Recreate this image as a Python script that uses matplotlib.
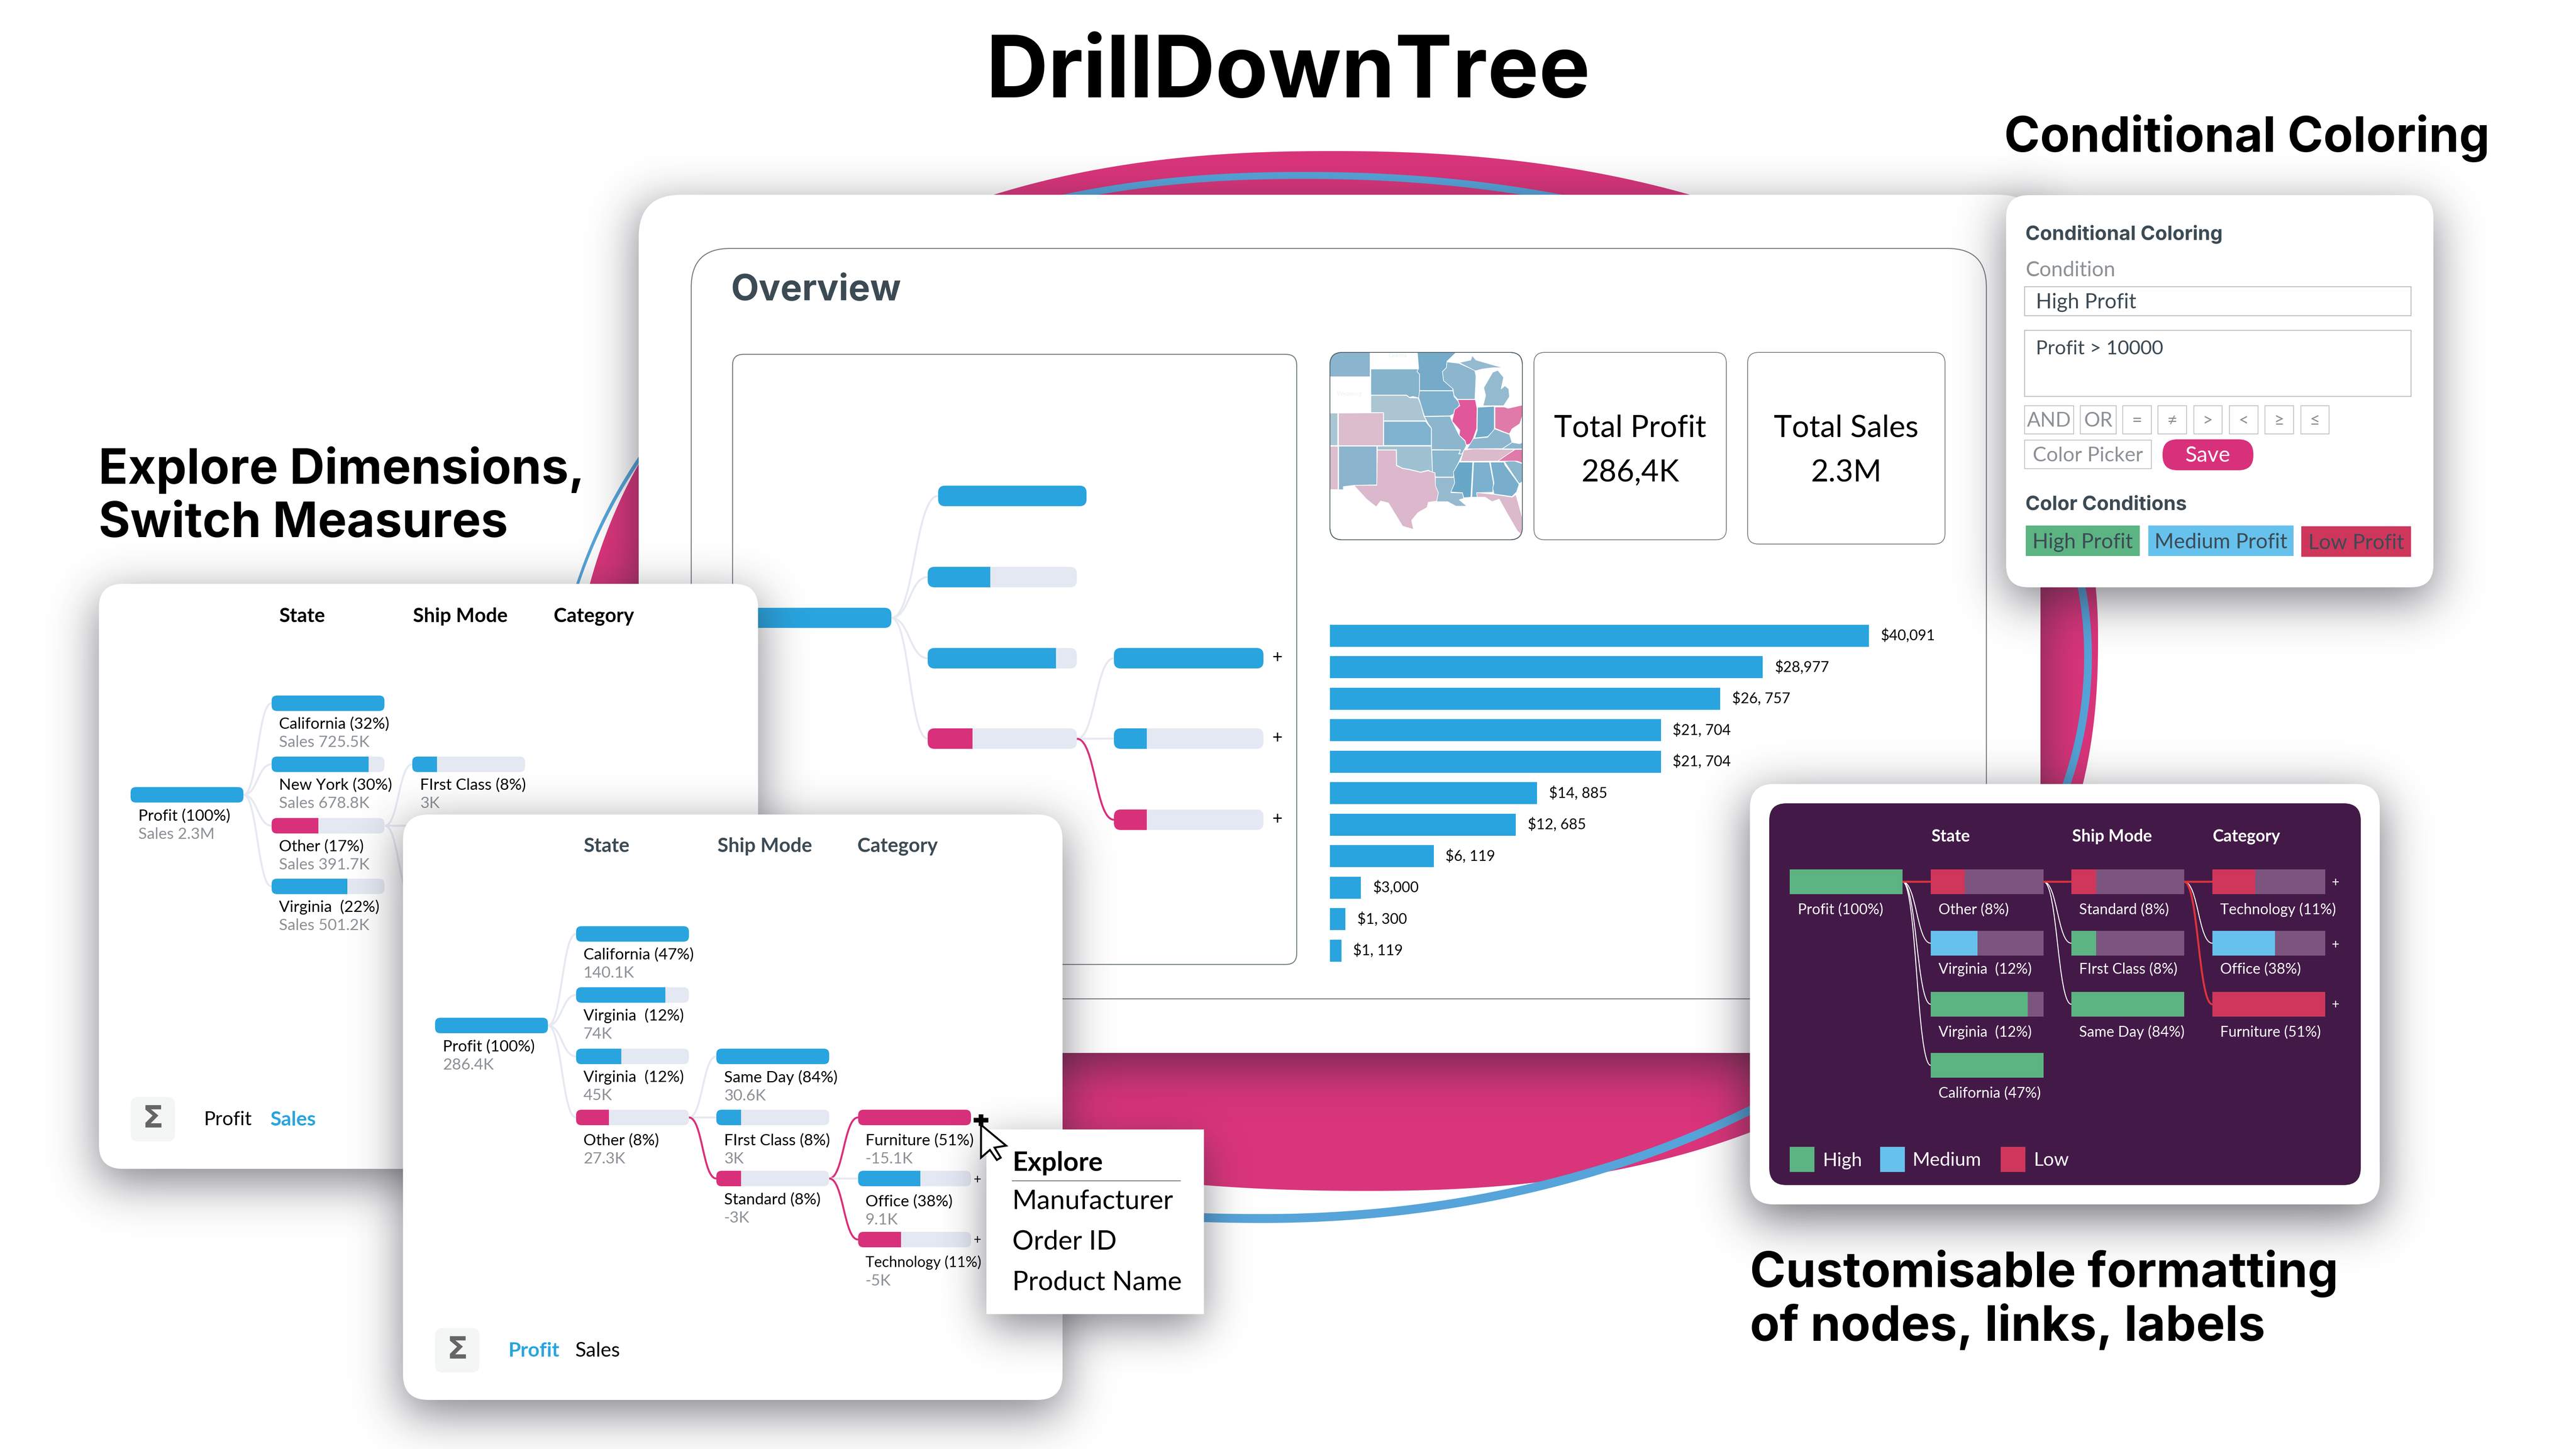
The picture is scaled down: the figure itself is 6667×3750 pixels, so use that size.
import math

import matplotlib
matplotlib.use("Agg")
import matplotlib.pyplot as plt
import numpy as np
from matplotlib.patches import FancyBboxPatch, PathPatch, Polygon, Rectangle
from matplotlib.path import Path

plt.rcParams['font.family'] = ['Lato', 'DejaVu Sans']

W, H = 6667, 3750
HEAD_FONT = ['Inter', 'DejaVu Sans']

PINK = '#D9307B'
BLUE = '#29A4DE'
TRACK = '#E4E8F2'
LINK = '#E6E9F2'
SLATE = '#3C4A54'
GREY = '#8C9196'
GREEN = '#5CB482'
SKY = '#66C1EC'
RED = '#CF365C'
PLUM = '#431A47'
PLUM_TRACK = '#7B557F'

# horizontal bars in the overview (lengths as drawn, labels as printed)
bar_lengths = [40091, 32200, 29040, 24620, 24620, 15410, 13830, 7720, 2310, 1155, 858]
bar_labels = ['$40,091', '$28,977', '$26, 757', '$21, 704', '$21, 704', '$14, 885',
              '$12, 685', '$6, 119', '$3,000', '$1, 300', '$1, 119']

# overview tree (no labels)
overview_state_fill = [1.0, 0.42, 0.86, 0.30]
overview_state_color = [BLUE, BLUE, BLUE, PINK]
overview_mode_fill = [1.0, 0.22, 0.22]
overview_mode_color = [BLUE, BLUE, PINK]

# sales card
sales_states = ['California (32%)', 'New York (30%)', 'Other (17%)', 'Virginia  (22%)']
sales_state_values = ['Sales 725.5K', 'Sales 678.8K', 'Sales 391.7K', 'Sales 501.2K']
sales_state_fill = [1.0, 0.86, 0.415, 0.67]
sales_state_color = [BLUE, BLUE, PINK, BLUE]

# profit card
profit_states = ['California (47%)', 'Virginia  (12%)', 'Virginia  (12%)', 'Other (8%)']
profit_state_values = ['140.1K', '74K', '45K', '27.3K']
profit_state_fill = [1.0, 0.79, 0.40, 0.29]
profit_state_color = [BLUE, BLUE, BLUE, PINK]
profit_modes = ['Same Day (84%)', 'FIrst Class (8%)', 'Standard (8%)']
profit_mode_values = ['30.6K', '3K', '-3K']
profit_mode_fill = [1.0, 0.22, 0.22]
profit_mode_color = [BLUE, BLUE, PINK]
profit_cats = ['Furniture (51%)', 'Office (38%)', 'Technology (11%)']
profit_cat_values = ['-15.1K', '9.1K', '-5K']
profit_cat_fill = [1.0, 0.55, 0.38]
profit_cat_color = [PINK, BLUE, PINK]
menu_items = ['Manufacturer', 'Order ID', 'Product Name']

# formatted (dark) card
dark_states = ['Other (8%)', 'Virginia  (12%)', 'Virginia  (12%)', 'California (47%)']
dark_state_fill = [0.30, 0.415, 0.86, 1.0]
dark_state_color = [RED, SKY, GREEN, GREEN]
dark_modes = ['Standard (8%)', 'FIrst Class (8%)', 'Same Day (84%)']
dark_mode_fill = [0.22, 0.22, 1.0]
dark_mode_color = [RED, GREEN, GREEN]
dark_cats = ['Technology (11%)', 'Office (38%)', 'Furniture (51%)']
dark_cat_fill = [0.38, 0.555, 1.0]
dark_cat_color = [RED, SKY, RED]
dark_legend = ['High', 'Medium', 'Low']
dark_legend_color = [GREEN, SKY, RED]

# condition buttons
operators = ['AND', 'OR', '=', '≠', '>', '<', '≥', '≤']
operator_edges = [(5240, 5367), (5384, 5477), (5494, 5568), (5585, 5659),
                  (5678, 5751), (5770, 5844), (5862, 5936), (5955, 6028)]

# state shapes for the little map, traced at 3x from its top left corner
MAP_SHAPES = [
    ('#8BB4CE', [(37, 37), (349, 37), (349, 226), (37, 226)]),
    ('#85B3CC', [(354, 165), (725, 165), (712, 185), (732, 205), (732, 385), (720, 388), (680, 378),
                 (655, 385), (630, 367), (354, 367)]),
    ('#75AAC9', [(715, 37), (1015, 37), (945, 105), (940, 155), (910, 185), (918, 255), (990, 315),
                 (990, 332), (732, 332), (732, 205), (712, 185), (725, 160)]),
    ('#8BB6CE', [(945, 110), (1035, 120), (1160, 175), (1170, 220), (1162, 400), (1028, 400), (1000, 370),
                 (992, 320), (918, 255), (910, 185), (940, 155)]),
    ('#94BAD0', [(1040, 115), (1130, 95), (1140, 60), (1170, 95), (1290, 130), (1380, 155), (1300, 155),
                 (1220, 165), (1165, 180)]),
    ('#94BAD0', [(1225, 450), (1245, 370), (1230, 310), (1300, 190), (1340, 175), (1385, 230), (1365, 320),
                 (1395, 295), (1425, 320), (1430, 380), (1385, 450)]),
    ('#ABC6D2', [(354, 370), (630, 370), (655, 388), (720, 390), (745, 450), (765, 530), (785, 566),
                 (453, 566), (453, 503), (354, 503)]),
    ('#7DB0CD', [(732, 335), (992, 335), (1000, 380), (1045, 430), (1030, 470), (1000, 490), (1005, 510),
                 (970, 528), (770, 532), (745, 450), (725, 385)]),
    ('#E0589B', [(1028, 403), (1165, 403), (1178, 470), (1175, 630), (1150, 700), (1130, 745), (1095, 755),
                 (1085, 720), (1040, 680), (1045, 640), (985, 570), (1005, 480), (1045, 450)]),
    ('#70A9C9', [(1182, 462), (1312, 455), (1312, 640), (1260, 690), (1160, 700), (1180, 640)]),
    ('#E07AA9', [(1318, 460), (1390, 460), (1420, 470), (1530, 445), (1530, 530), (1510, 590), (1450, 630),
                 (1430, 668), (1380, 650), (1318, 625)]),
    ('#8CB6CE', [(1100, 785), (1150, 705), (1260, 695), (1315, 630), (1380, 655), (1430, 672), (1450, 735),
                 (1375, 783)]),
    ('#8CB6CE', [(1375, 785), (1450, 735), (1510, 745), (1530, 735), (1530, 785)]),
    ('#AAC6D2', [(37, 507), (97, 507), (97, 760), (37, 760)]),
    ('#DBBDCD', [(103, 507), (451, 505), (451, 760), (103, 760)]),
    ('#DBBDCD', [(37, 764), (100, 764), (100, 1102), (37, 1102)]),
    ('#8AB4CE', [(104, 764), (400, 764), (400, 1064), (222, 1068), (140, 1078), (140, 1102), (104, 1102)]),
    ('#7FB2CF', [(454, 572), (780, 572), (800, 600), (823, 625), (823, 758), (454, 758)]),
    ('#9FC1D2', [(405, 764), (823, 764), (832, 968), (800, 950), (740, 965), (660, 945), (600, 935),
                 (555, 912), (553, 792), (405, 792)]),
    ('#8CB6CE', [(770, 535), (970, 532), (985, 570), (1040, 680), (1085, 725), (1095, 760), (1080, 790),
                 (1060, 825), (1040, 822), (1050, 792), (825, 790), (825, 625), (800, 590)]),
    ('#8AB6CE', [(827, 795), (1050, 795), (1035, 825), (1065, 825), (1040, 880), (1000, 960), (995, 1003),
                 (855, 1003), (852, 970), (833, 965)]),
    ('#DBB8CB', [(405, 795), (550, 795), (552, 915), (600, 938), (660, 948), (740, 968), (800, 955),
                 (852, 972), (855, 1070), (878, 1125), (865, 1190), (800, 1200), (790, 1240), (720, 1280),
                 (670, 1340), (685, 1410), (600, 1385), (530, 1270), (490, 1205), (430, 1190), (395, 1235),
                 (320, 1175), (222, 1068), (400, 1068)]),
    ('#95BAD0', [(855, 1007), (1000, 1007), (1005, 1050), (975, 1125), (1065, 1128), (1075, 1170), (1040, 1180),
                 (1100, 1230), (1015, 1230), (950, 1195), (865, 1195), (878, 1125), (855, 1070)]),
    ('#69A7C8', [(1040, 888), (1145, 888), (1130, 1160), (1075, 1165), (1065, 1125), (975, 1120), (1005, 1050),
                 (995, 965)]),
    ('#7BB0CE', [(1152, 888), (1275, 888), (1305, 1050), (1300, 1122), (1175, 1125), (1180, 1160), (1138, 1160)]),
    ('#78AECC', [(1282, 888), (1388, 888), (1395, 910), (1505, 1060), (1485, 1120), (1450, 1155), (1310, 1135),
                 (1300, 1090), (1310, 1050)]),
    ('#8CB6CE', [(1392, 885), (1455, 875), (1530, 900), (1530, 1040), (1505, 1055)]),
    ('#DBBACB', [(1075, 795), (1150, 785), (1470, 790), (1420, 825), (1340, 880), (1050, 882)]),
    ('#E07AA9', [(1475, 790), (1530, 790), (1530, 895), (1490, 880), (1340, 880), (1420, 825)]),
    ('#DBBACB', [(1175, 1125), (1310, 1138), (1450, 1160), (1480, 1140), (1530, 1320), (1530, 1460), (1490, 1420),
                 (1420, 1300), (1350, 1175), (1295, 1195), (1240, 1160), (1180, 1160)]),
]

_z = [10]
erf = np.vectorize(math.erf)


def nz():
    _z[0] += 1
    return _z[0]


def full_axes(zorder):
    a = fig.add_axes([0, 0, 1, 1], zorder=zorder)
    a.set_xlim(0, W)
    a.set_ylim(H, 0)
    a.axis('off')
    a.patch.set_visible(False)
    return a


def px(v):
    return v * 0.72


def put(a, x, y, s, size, color='black', weight='normal', ha='left', family=None):
    kw = {'family': family} if family else {}
    a.text(x, y + size * 0.07, s, fontsize=px(size), color=color, fontweight=weight, ha=ha, va='center',
           zorder=nz(), **kw)


def box(a, x0, y0, x1, y1, r=0, fc='white', ec='none', lw=0):
    p = FancyBboxPatch((x0, y0), x1 - x0, y1 - y0, boxstyle=f'round,pad=0,rounding_size={r}',
                       fc=fc, ec=ec, lw=px(lw), zorder=nz())
    a.add_patch(p)
    return p


def shadow(a, x0, y0, x1, y1, dy=34, sigma=62, peak=0.6):
    m = sigma * 3.5
    xs = np.arange(x0 - m, x1 + m, 8)
    ys = np.arange(y0 - m + dy, y1 + m + dy, 8)
    k = sigma * math.sqrt(2)
    fx = 0.5 * (erf((xs - x0) / k) - erf((xs - x1) / k))
    fy = 0.5 * (erf((ys - y0 - dy) / k) - erf((ys - y1 - dy) / k))
    img = np.zeros((len(ys), len(xs), 4))
    img[..., :3] = (0.13, 0.13, 0.18)
    img[..., 3] = peak * np.outer(fy, fx)
    a.imshow(img, extent=(xs[0], xs[-1], ys[-1], ys[0]), origin='upper', aspect='auto',
             interpolation='bilinear', zorder=nz())


def card(a, x0, y0, x1, y1, r=60, **kw):
    shadow(a, x0, y0, x1, y1, **kw)
    return box(a, x0, y0, x1, y1, r=r)


def node(a, x, y, w, h, frac, color, track=TRACK, r=14):
    t = box(a, x, y, x + w, y + h, r=r, fc=track)
    f = Rectangle((x, y), w * frac, h, fc=color, ec='none', zorder=nz())
    a.add_patch(f)
    f.set_clip_path(t)


def link(a, x0, y0, x1, y1, color=LINK, lw=5):
    mid = (x0 + x1) / 2
    path = Path([(x0, y0), (mid, y0), (mid, y1), (x1, y1)],
                [Path.MOVETO, Path.CURVE4, Path.CURVE4, Path.CURVE4])
    a.add_patch(PathPatch(path, fc='none', ec=color, lw=px(lw), zorder=nz()))


def arc(side, apex, n):
    # quarter of a superellipse, running from the side point to the apex
    t = np.linspace(0, np.pi / 2, 300)
    x = apex[0] + (side[0] - apex[0]) * np.cos(t) ** (2 / n)
    y = side[1] + (apex[1] - side[1]) * np.sin(t) ** (2 / n)
    return np.column_stack([x, y])


def outline(top, right, bottom, left, n):
    # n holds the exponents for top-right, right-bottom, bottom-left, left-top
    return np.vstack([arc(right, top, n[0])[::-1], arc(right, bottom, n[1]),
                      arc(left, bottom, n[2])[::-1], arc(left, top, n[3])])


def sigma_box(a, x0, y0, x1, y1):
    box(a, x0, y0, x1, y1, r=20, fc='#F4F5F5')
    put(a, (x0 + x1) / 2, (y0 + y1) / 2 - 6, 'Σ', 80, color='#666666', weight='bold', ha='center',
        family='DejaVu Sans')


fig = plt.figure(figsize=(W / 100, H / 100), dpi=100, facecolor='white')
back = full_axes(1)
ax = full_axes(3)

# pink shape and blue ring behind the overview
back.add_patch(Polygon(outline((3450, 391), (5430, 1650), (3536, 3082), (1470, 2000), (2.2, 2.3, 2.2, 2.3)),
                       closed=True, fc='#DA357B', ec='none', zorder=nz()))
ring_n = (2.1, 2.0, 2.2, 2.2)
ring_outer = outline((3375, 445), (5414, 1700), (3270, 3165), (1420, 2000), ring_n)
ring_inner = outline((3375, 463), (5394, 1700), (3270, 3142), (1426, 2000), ring_n)
ring = Path.make_compound_path(Path(ring_outer, closed=True), Path(ring_inner[::-1], closed=True))
back.add_patch(PathPatch(ring, fc='#56A4D9', ec='none', zorder=nz()))

# overview panel
card(back, 1653, 504, 5281, 2725, r=110, peak=0.62)
box(back, 1789, 643, 5141, 2585, r=100, fc='none', ec='#6E7A80', lw=2.5)
box(back, 1896, 917, 3356, 2496, r=28, fc='none', ec='#6E7A80', lw=2.5)
put(back, 1892, 746, 'Overview', 94, color=SLATE, weight='bold', family=HEAD_FONT)

# overview tree
ov_rows = [1257, 1467, 1677, 1885]
ov_x = [2428, 2401, 2401, 2401]
ov_w = [384, 386, 386, 386]
ov_h = 53
for i in range(4):
    link(back, 2307, 1599, ov_x[i], ov_rows[i] + ov_h / 2)
mode_rows = [1677, 1885, 2095]
for i, c in enumerate([LINK, LINK, PINK]):
    link(back, 2787, 1912, 2883, mode_rows[i] + ov_h / 2, color=c, lw=5)
node(back, 1922, 1573, 385, 52, 1.0, BLUE, r=18)
for i in range(4):
    node(back, ov_x[i], ov_rows[i], ov_w[i], ov_h, overview_state_fill[i], overview_state_color[i], r=18)
for i in range(3):
    node(back, 2883, mode_rows[i], 387, ov_h, overview_mode_fill[i], overview_mode_color[i], r=18)
    put(back, 3306, mode_rows[i] + 22, '+', 46, ha='center')

# map and KPI cards
map_frame = box(back, 3442, 912, 3940, 1397, r=32, fc='white', ec='#4A5A64', lw=2)
for color, pts in MAP_SHAPES:
    pts_px = [(3430 + x / 3, 900 + y / 3) for x, y in pts]
    shape = Polygon(pts_px, closed=True, fc=color, ec='white', lw=px(1.5), zorder=nz())
    back.add_patch(shape)
    shape.set_clip_path(map_frame)
box(back, 3442, 912, 3940, 1397, r=32, fc='none', ec='#4A5A64', lw=2)
put(back, 3461, 1019, 'Wyoming', 15, color='#EEF0F2')
put(back, 3594, 920, 'Dakota', 15, color='#EEF0F2')

box(back, 3970, 912, 4468, 1397, r=28, fc='white', ec='#6E7A80', lw=2)
box(back, 4523, 912, 5034, 1408, r=28, fc='white', ec='#6E7A80', lw=2)
put(back, 4219, 1103, 'Total Profit', 79, ha='center')
put(back, 4219, 1219, '286,4K', 79, ha='center')
put(back, 4778, 1103, 'Total Sales', 79, ha='center')
put(back, 4778, 1219, '2.3M', 79, ha='center')

# bar chart has its own axes, on top of the panel
bar_top, bar_step = 1604.5, 81.5
bar_ax = fig.add_axes([3442 / W, 1 - (bar_top + bar_step * len(bar_lengths)) / H, 1395 / W,
                       bar_step * len(bar_lengths) / H], zorder=2)
bar_y = np.arange(len(bar_lengths))
bar_ax.barh(bar_y, bar_lengths, height=0.705, color=BLUE)
bar_ax.set_xlim(0, 40091)
bar_ax.set_ylim(len(bar_lengths) - 0.5, -0.5)
bar_ax.axis('off')
bar_ax.patch.set_visible(False)
for i, label in enumerate(bar_labels):
    bar_ax.annotate(label, (bar_lengths[i], i), xytext=(22, 0), textcoords='offset points',
                    fontsize=px(38), va='center', ha='left', annotation_clip=False)

# headings
put(ax, 3333, 178, 'DrillDownTree', 223, weight='bold', ha='center', family=HEAD_FONT)
put(ax, 5187, 349, 'Conditional Coloring', 125.5, weight='bold', family=HEAD_FONT)
put(ax, 255, 1208, 'Explore Dimensions,', 125.5, weight='bold', family=HEAD_FONT)
put(ax, 255, 1348, 'Switch Measures', 125.5, weight='bold', family=HEAD_FONT)
put(ax, 4529, 3287, 'Customisable formatting', 125.5, weight='bold', family=HEAD_FONT)
put(ax, 4529, 3427, 'of nodes, links, labels', 125.5, weight='bold', family=HEAD_FONT)

# conditional colouring card
card(ax, 5192, 505, 6298, 1520, r=58)
put(ax, 5242, 603, 'Conditional Coloring', 51, color=SLATE, weight='bold', family=HEAD_FONT)
put(ax, 5242, 696, 'Condition', 54, color=GREY)
box(ax, 5240, 742, 6240, 817, ec='#BDBFC2', lw=2.5)
put(ax, 5269, 778, 'High Profit', 54, color=SLATE)
box(ax, 5240, 855, 6240, 1026, ec='#BDBFC2', lw=2.5)
put(ax, 5269, 899, 'Profit > 10000', 51, color=SLATE)
for name, (x0, x1) in zip(operators, operator_edges):
    box(ax, x0, 1050, x1, 1123, ec='#BDBFC2', lw=2)
    put(ax, (x0 + x1) / 2, 1086, name, 52 if len(name) > 1 else 46, color=GREY, ha='center')
box(ax, 5240, 1139, 5568, 1213, ec='#BDBFC2', lw=2)
put(ax, 5404, 1176, 'Color Picker', 53, color=GREY, ha='center')
box(ax, 5597, 1137, 5832, 1217, r=38, fc=PINK)
put(ax, 5714, 1176, 'Save', 56, color='white', ha='center')
put(ax, 5242, 1302, 'Color Conditions', 51, color=SLATE, weight='bold', family=HEAD_FONT)
chips = [('High Profit', 5243, 5538, 1360, 1439, GREEN), ('Medium Profit', 5560, 5936, 1360, 1439, SKY),
         ('Low Profit', 5956, 6240, 1362, 1441, RED)]
for name, x0, x1, y0, y1, c in chips:
    box(ax, x0, y0, x1, y1, fc=c)
    put(ax, (x0 + x1) / 2, (y0 + y1) / 2, name, 54, color=SLATE, ha='center')

# dark formatted card
card(ax, 4529, 2029, 6159, 3117, r=62, peak=0.7)
box(ax, 4579, 2079, 6110, 3067, r=44, fc=PLUM)
for x, s in zip([4998, 5363, 5726], ['State', 'Ship Mode', 'Category']):
    put(ax, x, 2162, s, 43, color='white', weight='bold')
dark_cols = [4632, 4997, 5361, 5726]
dark_rows = [2250, 2409, 2567, 2725]
dark_w, dark_h = 292, 64
dark_mid = [r + dark_h / 2 for r in dark_rows]
for i in range(1, 4):
    link(ax, dark_cols[0] + dark_w, dark_mid[0], dark_cols[1], dark_mid[i], color='white', lw=2.5)
for i in range(1, 3):
    link(ax, dark_cols[1] + dark_w, dark_mid[0], dark_cols[2], dark_mid[i], color='white', lw=2.5)
link(ax, dark_cols[2] + dark_w, dark_mid[0], dark_cols[3], dark_mid[1], color='white', lw=2.5)
for c in range(3):
    link(ax, dark_cols[c] + dark_w, dark_mid[0], dark_cols[c + 1], dark_mid[0], color='#E0323C', lw=5)
link(ax, dark_cols[2] + dark_w, dark_mid[0], dark_cols[3], dark_mid[2], color='#E0323C', lw=5)

dark_label_y = [2352, 2506, 2669, 2827]
node(ax, dark_cols[0], dark_rows[0], dark_w, dark_h, 1.0, GREEN, track=PLUM_TRACK, r=0.1)
put(ax, dark_cols[0] + 21, dark_label_y[0], 'Profit (100%)', 38, color='white')
for i in range(4):
    node(ax, dark_cols[1], dark_rows[i], dark_w, dark_h, dark_state_fill[i], dark_state_color[i],
         track=PLUM_TRACK, r=0.1)
    put(ax, dark_cols[1] + 20, dark_label_y[i], dark_states[i], 38, color='white')
for i in range(3):
    node(ax, dark_cols[2], dark_rows[i], dark_w, dark_h, dark_mode_fill[i], dark_mode_color[i],
         track=PLUM_TRACK, r=0.1)
    put(ax, dark_cols[2] + 20, dark_label_y[i], dark_modes[i], 38, color='white')
    node(ax, dark_cols[3], dark_rows[i], dark_w, dark_h, dark_cat_fill[i], dark_cat_color[i],
         track=PLUM_TRACK, r=0.1)
    put(ax, dark_cols[3] + 20, dark_label_y[i], dark_cats[i], 38, color='white')
for y in [2284, 2445, 2600]:
    put(ax, 6044, y - 2, '+', 34, color='white', ha='center')
for x, tx, name, c in zip([4632, 4866, 5178], [4718, 4950, 5263], dark_legend, dark_legend_color):
    ax.add_patch(Rectangle((x, 2968), 64, 65, fc=c, ec='none', zorder=nz()))
    put(ax, tx, 3000, name, 49, color='white')

# sales card
card(ax, 256, 1511, 1962, 3025, r=62)
for x, s in zip([723, 1069, 1433], ['State', 'Ship Mode', 'Category']):
    put(ax, x, 1592, s, 51, weight='bold')
s_rows = [1800, 1958, 2117, 2274]
node_w, node_h = 292, 40
for y in s_rows:
    link(ax, 630, 2057, 703, y + node_h / 2)
link(ax, 996, 2137, 1067, 1978)
link(ax, 996, 2137, 1067, 2137)
link(ax, 996, 2137, 1067, 2320)
node(ax, 338, 2037, node_w, node_h, 1.0, BLUE)
put(ax, 358, 2109, 'Profit (100%)', 41)
put(ax, 358, 2157, 'Sales 2.3M', 41, color=GREY)
for i, y in enumerate(s_rows):
    node(ax, 703, y, node_w, node_h, sales_state_fill[i], sales_state_color[i])
    put(ax, 722, y + 71, sales_states[i], 41)
    put(ax, 722, y + 119, sales_state_values[i], 41, color=GREY)
node(ax, 1067, 1958, node_w, node_h, 0.22, BLUE)
put(ax, 1087, 2029, 'FIrst Class (8%)', 41)
put(ax, 1087, 2077, '3K', 41, color=GREY)
sigma_box(ax, 338, 2839, 453, 2954)
put(ax, 527, 2895, 'Profit', 50)
put(ax, 700, 2895, 'Sales', 52, color=BLUE, weight='bold')

# profit card
card(ax, 1043, 2108, 2750, 3623, r=66)
for x, s in zip([1511, 1857, 2219], ['State', 'Ship Mode', 'Category']):
    put(ax, x, 2187, s, 51, color=SLATE, weight='bold')
p_rows = [2397, 2555, 2714, 2872]
m_rows = [2714, 2872, 3030]
c_rows = [2872, 3030, 3188]
p_x = [1126, 1491, 1854, 2221]
for y in p_rows:
    link(ax, 1418, 2654, p_x[1], y + node_h / 2)
for y, c in zip(m_rows, [LINK, LINK, PINK]):
    link(ax, 1783, 2892, p_x[2], y + node_h / 2, color=c)
for y, c in zip(c_rows, [PINK, LINK, PINK]):
    link(ax, 2146, 3050, p_x[3], y + node_h / 2, color=c)
node(ax, p_x[0], 2634, node_w, node_h, 1.0, BLUE)
put(ax, p_x[0] + 20, 2706, 'Profit (100%)', 41)
put(ax, p_x[0] + 20, 2754, '286.4K', 41, color=GREY)
for i, y in enumerate(p_rows):
    node(ax, p_x[1], y, node_w, node_h, profit_state_fill[i], profit_state_color[i])
    put(ax, p_x[1] + 19, y + 71 + (6 if i == 3 else 0), profit_states[i], 41)
    put(ax, p_x[1] + 19, y + 119 + (6 if i == 3 else 0), profit_state_values[i], 41, color=GREY)
for i, y in enumerate(m_rows):
    node(ax, p_x[2], y, node_w, node_h, profit_mode_fill[i], profit_mode_color[i])
    put(ax, p_x[2] + 20, y + 72 + (5 if i == 1 else 0), profit_modes[i], 41)
    put(ax, p_x[2] + 20, y + 120 + (5 if i == 1 else 0), profit_mode_values[i], 41, color=GREY)

# last column and its plus signs
for i, y in enumerate(c_rows):
    node(ax, p_x[3], y, node_w, node_h, profit_cat_fill[i], profit_cat_color[i])
    put(ax, p_x[3] + 19, y + 77, profit_cats[i], 38 if i == 2 else 41)
    put(ax, p_x[3] + 19, y + 125, profit_cat_values[i], 41, color=GREY)
put(ax, 2529, 3051, '+', 34, ha='center')
put(ax, 2529, 3207, '+', 34, ha='center')
sigma_box(ax, 1126, 3437, 1241, 3552)
put(ax, 1316, 3493, 'Profit', 52, color=BLUE, weight='bold')
put(ax, 1488, 3493, 'Sales', 52)

# explore menu
shadow(ax, 2553, 2923, 3116, 3401, sigma=55, peak=0.55)
box(ax, 2553, 2923, 3116, 3401)
put(ax, 2620, 3006, 'Explore', 69, weight='bold')
ax.plot([2620, 3055], [3056, 3056], color='#666666', lw=px(2), zorder=nz())
for y, s in zip([3105, 3209, 3314], menu_items):
    put(ax, 2620, y, s, 69)

# plus and arrow cursor
ax.plot([2520, 2558], [2899, 2899], color='black', lw=px(12), solid_capstyle='butt', zorder=nz())
ax.plot([2539, 2539], [2884, 2914], color='black', lw=px(12), solid_capstyle='butt', zorder=nz())
cursor = [(2539, 2911), (2539, 2996), (2562, 2976), (2580, 3002), (2590, 2996), (2574, 2970), (2604, 2965)]
ax.add_patch(Polygon(cursor, closed=True, fc='white', ec='black', lw=px(5), zorder=nz()))

for a in (back, ax):
    a.set_xlim(0, W)
    a.set_ylim(H, 0)

fig.savefig('out.png', dpi=100, facecolor='white')
